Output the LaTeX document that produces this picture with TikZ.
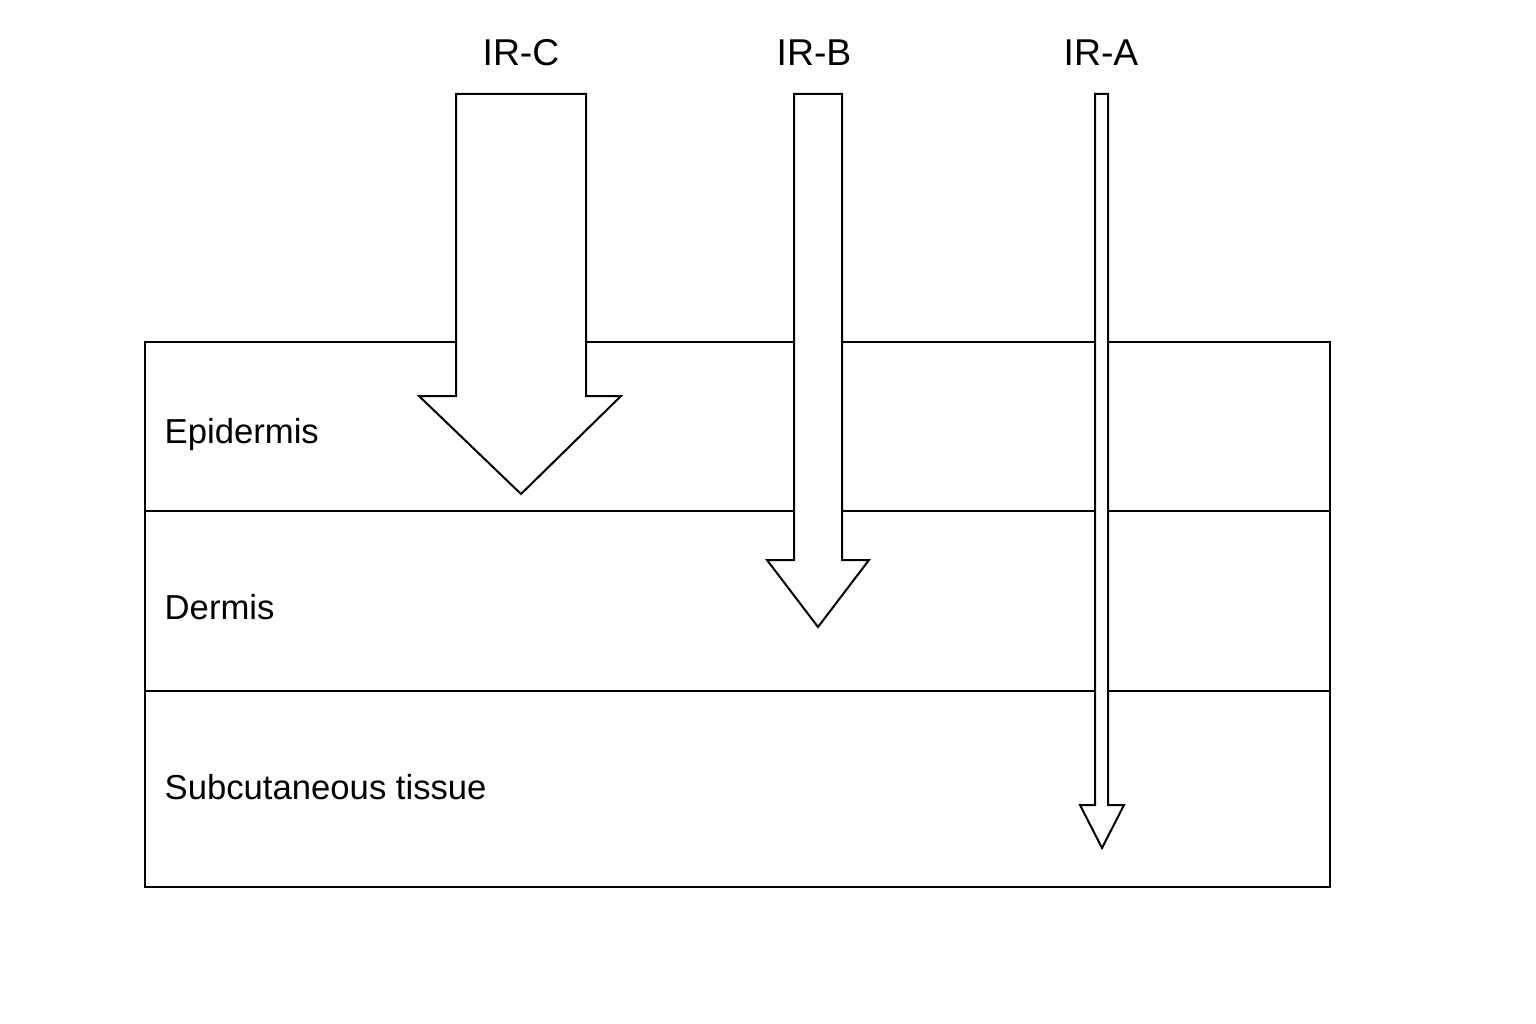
\documentclass[tikz,border=0pt]{standalone}
\usepackage{fontspec}
\setmainfont{Liberation Sans}
\begin{document}
\begin{tikzpicture}[x=0.75pt,y=0.75pt,yscale=-1,xscale=1]
\tikzset{
  layer/.style={line width=1.5pt},
  ray/.style={draw, line width=1.5pt, fill=white, line join=miter},
  band/.style={font=\fontsize{28}{32}\selectfont},
  tissue/.style={font=\fontsize{26}{30}\selectfont, anchor=west}
}
\useasboundingbox (0,0) rectangle (1536,1024);

%Layers
\draw [layer] (145,342) rectangle (1330,887) ;
\draw [layer] (145,511) -- (1330,511) ;
\draw [layer] (145,691) -- (1330,691) ;

%Arrow IR-C
\draw [ray] (456,94) -- (586,94) -- (586,396) -- (621,396) -- (521,494) -- (419,396) -- (456,396) -- cycle ;
%Arrow IR-B
\draw [ray] (794,94) -- (842,94) -- (842,560) -- (869,560) -- (818,627) -- (767,560) -- (794,560) -- cycle ;
%Arrow IR-A
\draw [ray] (1095,94) -- (1108,94) -- (1108,805) -- (1124,805) -- (1102,848) -- (1080,805) -- (1095,805) -- cycle ;

%Labels
\node [band] (irc) at (521,53) {IR-C};
\node [band] (irb) at (814,53) {IR-B};
\node [band] (ira) at (1101,53) {IR-A};
\node [tissue] (epi) at (160,435) {Epidermis};
\node [tissue] (der) at (160,607) {Dermis};
\node [tissue] (sub) at (160,787) {Subcutaneous tissue};
\end{tikzpicture}
\end{document}
